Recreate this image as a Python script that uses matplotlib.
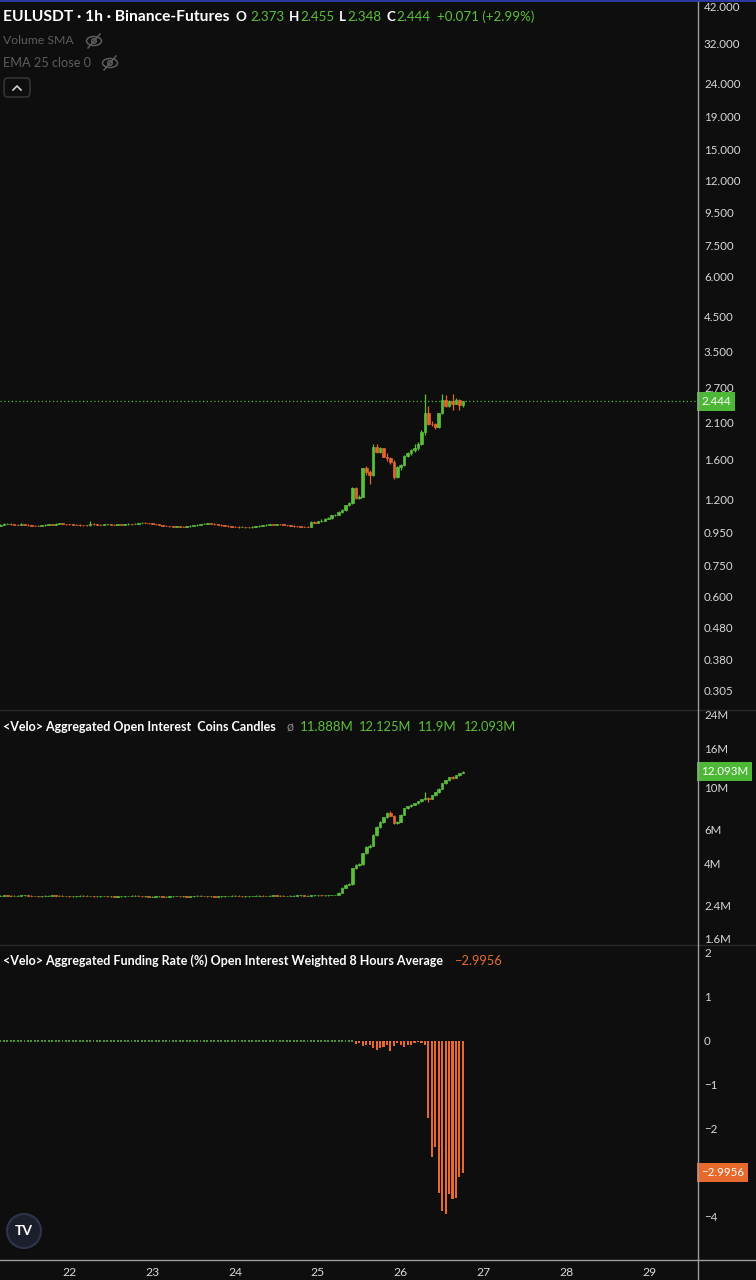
import matplotlib
matplotlib.use("Agg")
import matplotlib.pyplot as plt
import matplotlib.dates as mdates
import matplotlib.ticker as mticker
import matplotlib.transforms as mtransforms
from matplotlib.patches import Rectangle, Ellipse, FancyBboxPatch
from matplotlib.lines import Line2D
import numpy as np
import pandas as pd

plt.rcParams['font.family'] = ['Lato', 'DejaVu Sans']

# ---------------- data ----------------
start_time = "2025-05-21 04:00"
n_candles = 135

price_close = [
    1.004, 1.010, 1.012, 1.008, 1.005, 1.003, 1.009, 1.004, 1.001, 0.998,
    0.996, 0.995, 0.999, 1.003, 1.006, 1.004, 1.010, 1.013, 1.010, 1.008,
    1.006, 1.004, 1.003, 1.001, 1.000, 0.999, 1.012, 1.007, 1.005, 1.004,
    1.006, 1.008, 1.005, 1.003, 1.006, 1.005, 1.007, 1.009, 1.008, 1.012,
    1.016, 1.020, 1.018, 1.014, 1.010, 1.006, 1.002, 0.998, 0.995, 0.992,
    0.990, 0.992, 0.990, 0.989, 0.993, 0.996, 1.000, 1.004, 1.008, 1.012,
    1.015, 1.012, 1.008, 1.004, 1.000, 0.997, 0.994, 0.991, 0.989, 0.987,
    0.989, 0.987, 0.986, 0.988, 0.993, 0.996, 1.000, 1.004, 1.007, 1.005,
    1.008, 1.006, 1.003, 1.000, 0.997, 0.994, 0.992, 0.990, 0.989, 0.988,
    1.025, 1.020, 1.030, 1.035, 1.050, 1.055, 1.075, 1.080, 1.100, 1.115,
    1.155, 1.170, 1.305, 1.220, 1.230, 1.505, 1.470, 1.440, 1.760, 1.700,
    1.740, 1.640, 1.620, 1.580, 1.420, 1.520, 1.540, 1.650, 1.680, 1.720,
    1.740, 1.800, 1.960, 2.240, 2.080, 2.070, 2.030, 2.240, 2.460, 2.360,
    2.440, 2.400, 2.470, 2.373, 2.444,
]
price_open = [0.998] + price_close[:-1]
price_high = [
    1.008, 1.014, 1.016, 1.015, 1.011, 1.008, 1.016, 1.011, 1.007, 1.004,
    1.001, 0.999, 1.002, 1.006, 1.012, 1.009, 1.016, 1.017, 1.016, 1.012,
    1.010, 1.009, 1.007, 1.006, 1.004, 1.003, 1.028, 1.015, 1.010, 1.008,
    1.009, 1.012, 1.010, 1.008, 1.010, 1.009, 1.010, 1.013, 1.012, 1.016,
    1.020, 1.026, 1.023, 1.020, 1.016, 1.012, 1.008, 1.004, 1.000, 0.997,
    0.995, 0.996, 0.994, 0.993, 0.997, 1.000, 1.004, 1.008, 1.012, 1.016,
    1.020, 1.017, 1.014, 1.010, 1.006, 1.002, 0.999, 0.996, 0.994, 0.992,
    0.993, 0.991, 0.990, 0.992, 0.998, 1.000, 1.004, 1.008, 1.012, 1.010,
    1.012, 1.010, 1.008, 1.005, 1.002, 0.999, 0.996, 0.995, 0.993, 0.992,
    1.030, 1.032, 1.035, 1.050, 1.055, 1.062, 1.080, 1.088, 1.106, 1.122,
    1.160, 1.180, 1.315, 1.318, 1.245, 1.515, 1.535, 1.490, 1.800, 1.800,
    1.760, 1.750, 1.680, 1.640, 1.600, 1.530, 1.560, 1.660, 1.700, 1.730,
    1.790, 1.820, 1.980, 2.580, 2.360, 2.120, 2.090, 2.250, 2.580, 2.560,
    2.470, 2.580, 2.500, 2.490, 2.455,
]
price_low = [
    0.994, 1.001, 1.007, 1.005, 1.002, 1.000, 1.001, 1.001, 0.998, 0.995,
    0.993, 0.992, 0.993, 0.997, 1.001, 1.001, 1.002, 1.008, 1.007, 1.005,
    1.003, 1.002, 1.000, 0.998, 0.997, 0.996, 0.997, 1.004, 1.002, 1.001,
    1.001, 1.003, 1.002, 1.000, 1.001, 1.002, 1.002, 1.004, 1.005, 1.006,
    1.010, 1.013, 1.015, 1.011, 1.007, 1.003, 0.999, 0.995, 0.992, 0.989,
    0.987, 0.988, 0.987, 0.986, 0.987, 0.991, 0.994, 0.998, 1.002, 1.006,
    1.010, 1.009, 1.005, 1.001, 0.997, 0.994, 0.991, 0.988, 0.986, 0.984,
    0.985, 0.984, 0.983, 0.984, 0.986, 0.990, 0.994, 0.998, 1.002, 1.002,
    1.003, 1.003, 1.000, 0.997, 0.994, 0.991, 0.989, 0.987, 0.986, 0.985,
    0.986, 1.016, 1.017, 1.026, 1.031, 1.045, 1.050, 1.068, 1.074, 1.094,
    1.110, 1.148, 1.165, 1.210, 1.205, 1.225, 1.440, 1.350, 1.430, 1.680,
    1.680, 1.630, 1.590, 1.550, 1.400, 1.410, 1.490, 1.530, 1.630, 1.660,
    1.700, 1.720, 1.780, 1.920, 2.060, 2.040, 2.000, 2.020, 2.220, 2.340,
    2.340, 2.290, 2.390, 2.300, 2.348,
]

# open interest in millions of coins
oi_close = [
    2.70, 2.71, 2.70, 2.70, 2.69, 2.70, 2.71, 2.71, 2.70, 2.69,
    2.69, 2.68, 2.69, 2.70, 2.70, 2.71, 2.70, 2.70, 2.69, 2.69,
    2.68, 2.68, 2.69, 2.70, 2.70, 2.69, 2.69, 2.68, 2.68, 2.69,
    2.69, 2.68, 2.68, 2.67, 2.68, 2.68, 2.69, 2.69, 2.70, 2.70,
    2.69, 2.68, 2.68, 2.67, 2.67, 2.68, 2.68, 2.67, 2.67, 2.68,
    2.69, 2.69, 2.68, 2.68, 2.67, 2.68, 2.69, 2.70, 2.69, 2.69,
    2.68, 2.68, 2.67, 2.68, 2.68, 2.69, 2.69, 2.70, 2.70, 2.69,
    2.68, 2.68, 2.69, 2.69, 2.70, 2.70, 2.69, 2.69, 2.70, 2.71,
    2.70, 2.70, 2.69, 2.69, 2.70, 2.70, 2.71, 2.71, 2.70, 2.70,
    2.71, 2.71, 2.72, 2.71, 2.71, 2.72, 2.72, 2.72,
    2.80, 2.98, 3.08, 3.10, 3.75, 3.90, 3.95, 4.50, 4.85, 4.95,
    5.60, 6.20, 6.55, 6.95, 7.30, 7.10, 6.50, 6.60, 7.20, 7.75,
    7.95, 8.10, 8.25, 8.45, 8.65, 8.80, 8.70, 9.10, 9.40, 9.80,
    10.50, 10.90, 11.30, 11.20, 11.55, 11.888, 12.093,
]
oi_open = [2.70] + oi_close[:-1]
oi_high = [
    2.71, 2.72, 2.72, 2.71, 2.71, 2.71, 2.72, 2.72, 2.72, 2.71,
    2.70, 2.70, 2.70, 2.71, 2.71, 2.72, 2.72, 2.71, 2.71, 2.70,
    2.70, 2.69, 2.70, 2.71, 2.71, 2.71, 2.70, 2.70, 2.69, 2.70,
    2.70, 2.70, 2.69, 2.69, 2.69, 2.69, 2.70, 2.70, 2.71, 2.71,
    2.71, 2.70, 2.69, 2.69, 2.68, 2.69, 2.69, 2.69, 2.68, 2.69,
    2.70, 2.70, 2.70, 2.69, 2.69, 2.69, 2.70, 2.71, 2.71, 2.70,
    2.70, 2.69, 2.69, 2.69, 2.69, 2.70, 2.70, 2.71, 2.71, 2.71,
    2.70, 2.69, 2.70, 2.70, 2.71, 2.71, 2.71, 2.70, 2.71, 2.72,
    2.72, 2.71, 2.71, 2.70, 2.71, 2.71, 2.72, 2.72, 2.72, 2.71,
    2.72, 2.72, 2.73, 2.73, 2.72, 2.73, 2.73, 2.73,
    2.82, 3.00, 3.10, 3.14, 3.78, 3.94, 4.00, 4.55, 4.90, 5.02,
    5.66, 6.26, 6.62, 7.02, 7.40, 7.55, 7.15, 6.66, 7.28, 7.82,
    8.02, 8.16, 8.32, 8.52, 8.72, 9.50, 8.90, 9.16, 9.48, 9.88,
    10.60, 11.00, 11.40, 11.45, 11.62, 11.95, 12.125,
]
oi_low = [
    2.69, 2.69, 2.69, 2.69, 2.68, 2.68, 2.69, 2.70, 2.69, 2.68,
    2.68, 2.67, 2.67, 2.68, 2.69, 2.69, 2.69, 2.69, 2.68, 2.68,
    2.67, 2.67, 2.67, 2.68, 2.69, 2.68, 2.68, 2.67, 2.67, 2.67,
    2.68, 2.67, 2.67, 2.66, 2.66, 2.67, 2.67, 2.68, 2.68, 2.69,
    2.68, 2.67, 2.67, 2.66, 2.66, 2.66, 2.67, 2.66, 2.66, 2.66,
    2.67, 2.68, 2.67, 2.67, 2.66, 2.66, 2.67, 2.68, 2.68, 2.68,
    2.67, 2.67, 2.66, 2.66, 2.67, 2.67, 2.68, 2.68, 2.69, 2.68,
    2.67, 2.67, 2.67, 2.68, 2.68, 2.69, 2.68, 2.68, 2.68, 2.69,
    2.69, 2.69, 2.68, 2.68, 2.68, 2.69, 2.69, 2.70, 2.69, 2.69,
    2.69, 2.70, 2.70, 2.70, 2.70, 2.70, 2.71, 2.71,
    2.71, 2.79, 2.96, 3.06, 3.08, 3.72, 3.86, 3.92, 4.46, 4.80,
    4.92, 5.55, 6.15, 6.50, 6.90, 7.05, 6.45, 6.45, 6.56, 7.15,
    7.70, 7.90, 8.05, 8.20, 8.40, 8.55, 8.40, 8.65, 9.05, 9.35,
    9.75, 10.45, 10.85, 11.10, 11.15, 11.50, 11.88,
]

# funding rate (%)
funding = [
    0.01, 0.01, 0.01, 0.01, 0.01, 0.01, 0.01, 0.01, 0.01, 0.01,
    0.01, 0.01, 0.01, 0.01, 0.01, 0.01, 0.01, 0.01, 0.01, 0.01,
    0.01, 0.01, 0.01, 0.01, 0.01, 0.01, 0.01, 0.01, 0.01, 0.01,
    0.01, 0.01, 0.01, 0.01, 0.01, 0.01, 0.01, 0.01, 0.01, 0.01,
    0.01, 0.01, 0.01, 0.01, 0.01, 0.01, 0.01, 0.01, 0.01, 0.01,
    0.01, 0.01, 0.01, 0.01, 0.01, 0.01, 0.01, 0.01, 0.01, 0.01,
    0.01, 0.01, 0.01, 0.01, 0.01, 0.01, 0.01, 0.01, 0.01, 0.01,
    0.01, 0.01, 0.01, 0.01, 0.01, 0.01, 0.01, 0.01, 0.01, 0.01,
    0.01, 0.01, 0.01, 0.01, 0.01, 0.01, 0.01, 0.01, 0.01, 0.01,
    0.01, 0.01, 0.01, 0.01, 0.01, 0.01, 0.01, 0.01, 0.01, 0.01,
    0.01, 0.01, 0.01,
    -0.07, -0.04, -0.11, -0.10, -0.10, -0.15, -0.20, -0.17, -0.13, -0.10,
    -0.23, -0.11, -0.05, -0.10, -0.13, -0.08, -0.08, -0.05, -0.02, -0.04,
    -0.10, -1.74, -2.63, -2.41, -3.45, -3.86, -3.94, -3.48, -3.58, -3.56,
    -3.08, -2.9956,
]

price_ticks = [42, 32, 24, 19, 15, 12, 9.5, 7.5, 6, 4.5, 3.5, 2.7, 2.1, 1.6,
               1.2, 0.95, 0.75, 0.6, 0.48, 0.38, 0.305]
oi_ticks = [24, 16, 10, 6, 4, 2.4, 1.6]
oi_tick_labels = ["24M", "16M", "10M", "6M", "4M", "2.4M", "1.6M"]
fund_ticks = [2, 1, 0, -1, -2, -4]
fund_tick_labels = ["2", "1", "0", "\u22121", "\u22122", "\u22124"]

last_price = 2.444
last_oi = 12.093
last_fund = -2.9956

# ---------------- style ----------------
W, H = 756, 1280
BG = '#0e0e0e'
GREEN = '#5cbf3b'
RED = '#e4652e'
FUND = '#e8692c'
TXT = '#d8d8d8'
GRAY = '#5c5c5c'
AXLINE = '#9c9c9c'
SEP = '#2a2a2a'

times = pd.date_range(start_time, periods=n_candles, freq="h")
tnum = mdates.date2num(times.to_pydatetime())
x_left = mdates.date2num(pd.Timestamp("2025-05-21 03:54").to_pydatetime())
x_right = mdates.date2num(pd.Timestamp("2025-05-29 13:50").to_pydatetime())

fig = plt.figure(figsize=(W / 100, H / 100), dpi=100, facecolor=BG)
renderer = fig.canvas.get_renderer()


def add_ax(y0, y1):
    ax = fig.add_axes([0, 1 - y1 / H, 697 / W, (y1 - y0) / H])
    ax.set_facecolor(BG)
    for s in ax.spines.values():
        s.set_visible(False)
    ax.yaxis.tick_right()
    ax.tick_params(axis='y', length=0, pad=5, labelsize=8.3, labelcolor=TXT)
    ax.tick_params(axis='x', length=0, labelsize=8.7, labelcolor=TXT, pad=6)
    ax.set_xlim(x_left, x_right)
    return ax


def draw_candles(ax, o, h, l, c, width):
    o, h, l, c = map(np.asarray, (o, h, l, c))
    cols = np.where(c >= o, GREEN, RED)
    ax.vlines(tnum, l, h, colors=cols, linewidth=0.9, zorder=2)
    ax.bar(tnum, np.abs(c - o), bottom=np.minimum(o, c), width=width,
           color=cols, edgecolor=cols, linewidth=0.5, zorder=3)


def value_label(ax, val, text, color):
    trans = mtransforms.blended_transform_factory(ax.transAxes, ax.transData)
    trans = trans + mtransforms.ScaledTranslation(4 / 100, 0, fig.dpi_scale_trans)
    ax.text(1.0, val, text, transform=trans, ha='left', va='center',
            fontsize=8.3, color='white',
            bbox=dict(boxstyle='square,pad=0.35', fc=color, ec='none'),
            clip_on=False, zorder=10)


hour = 1 / 24

# ---- main price panel ----
ax1 = add_ax(2, 709)
ax1.set_yscale('log')
ax1.set_ylim(0.2665, 43.23)
draw_candles(ax1, price_open, price_high, price_low, price_close, 0.75 * hour)
ax1.axhline(last_price, color=GREEN, linestyle=(0, (1, 2)), linewidth=0.9, zorder=1)
ax1.yaxis.set_major_locator(mticker.FixedLocator(price_ticks))
ax1.yaxis.set_major_formatter(mticker.FixedFormatter([f"{v:.3f}" for v in price_ticks]))
ax1.yaxis.set_minor_locator(mticker.NullLocator())
ax1.tick_params(axis='x', labelbottom=False)
value_label(ax1, last_price, f"{last_price:.3f}", '#4cb836')

# ---- open interest panel ----
ax2 = add_ax(709, 944)
ax2.set_yscale('log')
ax2.set_ylim(1.505, 25.8)
draw_candles(ax2, oi_open, oi_high, oi_low, oi_close, 0.75 * hour)
ax2.yaxis.set_major_locator(mticker.FixedLocator(oi_ticks))
ax2.yaxis.set_major_formatter(mticker.FixedFormatter(oi_tick_labels))
ax2.yaxis.set_minor_locator(mticker.NullLocator())
ax2.tick_params(axis='x', labelbottom=False)
value_label(ax2, last_oi, f"{last_oi:.3f}M", '#4cb836')

# ---- funding panel ----
ax3 = add_ax(944, 1259)
ax3.set_ylim(-4.955, 2.2045)
fvals = np.asarray(funding)
pos = fvals >= 0
ax3.bar(tnum[pos], fvals[pos], width=0.55 * hour, color=GREEN, edgecolor=GREEN, linewidth=1.1)
ax3.bar(tnum[~pos], fvals[~pos], width=0.62 * hour, color=FUND, linewidth=0)
ax3.yaxis.set_major_locator(mticker.FixedLocator(fund_ticks))
ax3.yaxis.set_major_formatter(mticker.FixedFormatter(fund_tick_labels))
ax3.xaxis.set_major_locator(mdates.DayLocator())
ax3.xaxis.set_major_formatter(mdates.DateFormatter('%d'))
value_label(ax3, last_fund, f"\u2212{abs(last_fund):.4f}", FUND)

# ---------------- frame lines ----------------
fig.add_artist(Rectangle((0, 1 - 2 / H), 1, 2 / H, transform=fig.transFigure,
                         color='#2c3aa0', lw=0))
for yy in (709.5, 944.5):
    fig.add_artist(Line2D([0, 1], [1 - yy / H] * 2, transform=fig.transFigure,
                          color=SEP, lw=1))
fig.add_artist(Line2D([0, 1], [1 - 1259.5 / H] * 2, transform=fig.transFigure,
                      color=AXLINE, lw=1))
fig.add_artist(Line2D([697.5 / W] * 2, [0, 1 - 2 / H], transform=fig.transFigure,
                      color=AXLINE, lw=1))


# ---------------- header texts ----------------
def ftext(x, y, s, width=None, size=9.5, **kw):
    t = fig.text(x / W, 1 - y / H, s, va='center', ha='left', fontsize=size, **kw)
    if width is not None:
        w = t.get_window_extent(renderer).width
        t.set_fontsize(size * width / w)
    return t


ftext(3, 17, "EULUSDT \u00b7 1h \u00b7 Binance-Futures", width=226, size=11,
      color='white', fontweight='bold')
val_size = ftext(250, 17, "2.373", width=34, size=10, color=GREEN).get_fontsize()
for x, s, c in [(236, "O", 'white'), (289, "H", 'white'), (300, "2.455", GREEN),
                (339, "L", 'white'), (347, "2.348", GREEN),
                (387, "C", 'white'), (396, "2.444", GREEN),
                (437, "+0.071 (+2.99%)", GREEN)]:
    ftext(x, 17, s, size=val_size, color=c,
          fontweight='bold' if c == 'white' else 'normal')

ftext(3, 41, "Volume SMA", width=71, size=9, color=GRAY)
ftext(3, 63, "EMA 25 close 0", width=88, size=9, color=GRAY)


def eye_icon(cx, cy, color):
    fig.add_artist(Ellipse((cx / W, 1 - cy / H), 15 / W, 9 / H, transform=fig.transFigure,
                           fill=False, ec=color, lw=1.1))
    fig.add_artist(Ellipse((cx / W, 1 - cy / H), 4.5 / W, 4.5 / H, transform=fig.transFigure,
                           fill=False, ec=color, lw=1.1))
    fig.add_artist(Line2D([(cx - 6) / W, (cx + 6) / W], [1 - (cy + 7) / H, 1 - (cy - 7) / H],
                          transform=fig.transFigure, color=color, lw=1.1))


eye_icon(94, 41, GRAY)
eye_icon(110, 63, GRAY)

fig.add_artist(FancyBboxPatch((4 / W, 1 - 97 / H), 26 / W, 19 / H,
                              boxstyle="round,pad=0,rounding_size=0.004",
                              transform=fig.transFigure, fc=BG, ec='#3a3a3a', lw=1))
fig.add_artist(Line2D([13 / W, 17 / W, 21 / W], [1 - 90 / H, 1 - 86 / H, 1 - 90 / H],
                      transform=fig.transFigure, color='#d0d0d0', lw=1.2))

ftext(3, 727, "<Velo> Aggregated Open Interest  Coins Candles", width=274, size=9.5,
      color='white', fontweight='bold')
ftext(287, 727, "\u00f8", size=9, color='#8a8a8a')
for x, w, s in [(300, 54, "11.888M"), (359, 53, "12.125M"), (418, 39, "11.9M"),
                (464, 53, "12.093M")]:
    ftext(x, 727, s, width=w, size=9.5, color=GREEN)

ftext(3, 961, "<Velo> Aggregated Funding Rate (%) Open Interest Weighted 8 Hours Average",
      width=442, size=9.5, color='white', fontweight='bold')
ftext(454, 961, "\u22122.9956", width=48, size=9.5, color=FUND)

# TradingView logo
fig.add_artist(Ellipse((24 / W, 1 - 1231 / H), 34 / W, 34 / H, transform=fig.transFigure,
                       fc='#1b1e2b', ec='#30344a', lw=1.5))
fig.text(24 / W, 1 - 1231 / H, "TV", color='white', fontsize=10, fontweight='bold',
         ha='center', va='center')

fig.savefig("out.png", dpi=100, facecolor=BG)
